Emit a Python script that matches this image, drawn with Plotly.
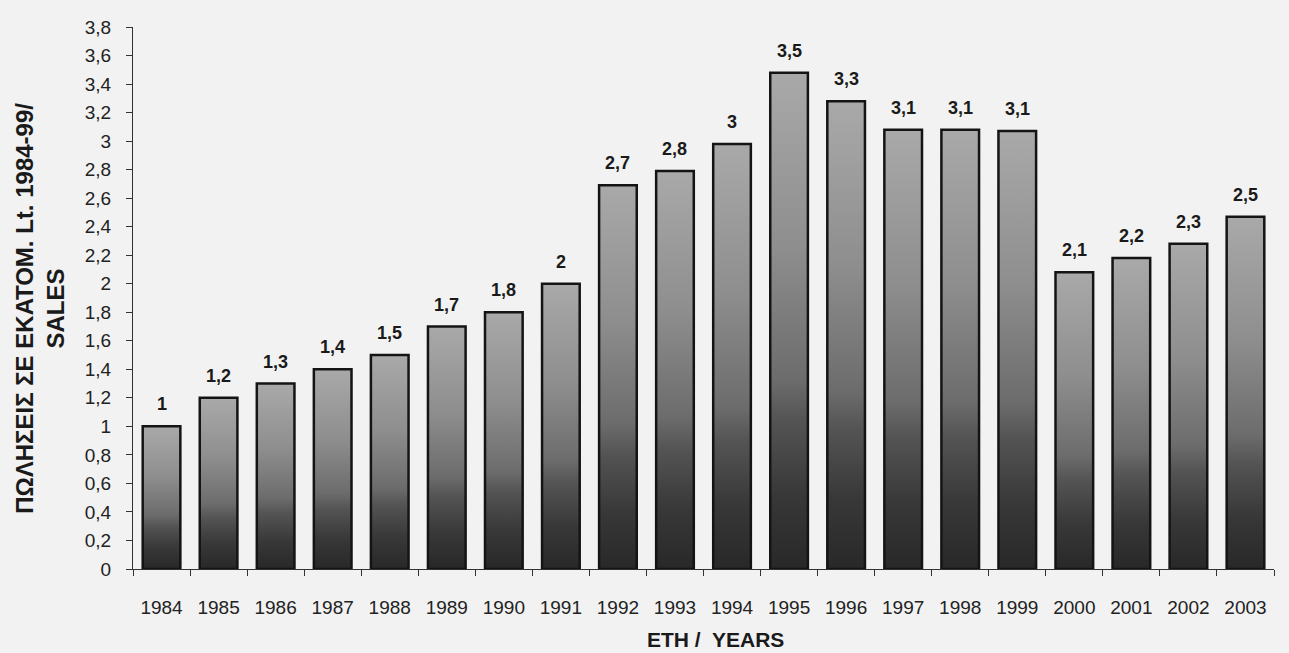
import plotly.graph_objects as go

years = [1984, 1985, 1986, 1987, 1988, 1989, 1990, 1991, 1992, 1993,
         1994, 1995, 1996, 1997, 1998, 1999, 2000, 2001, 2002, 2003]
sales = [1.0, 1.2, 1.3, 1.4, 1.5, 1.7, 1.8, 2.0, 2.69, 2.79,
         2.98, 3.48, 3.28, 3.08, 3.08, 3.07, 2.08, 2.18, 2.28, 2.47]
labels = ["1", "1,2", "1,3", "1,4", "1,5", "1,7", "1,8", "2", "2,7", "2,8",
          "3", "3,5", "3,3", "3,1", "3,1", "3,1", "2,1", "2,2", "2,3", "2,5"]
y_tickvals = [0, 0.2, 0.4, 0.6, 0.8, 1.0, 1.2, 1.4, 1.6, 1.8, 2.0,
              2.2, 2.4, 2.6, 2.8, 3.0, 3.2, 3.4, 3.6, 3.8]
y_ticktext = ["0", "0,2", "0,4", "0,6", "0,8", "1", "1,2", "1,4", "1,6", "1,8", "2",
              "2,2", "2,4", "2,6", "2,8", "3", "3,2", "3,4", "3,6", "3,8"]
x_ticktext = [str(y) for y in years]

FONT = "Liberation Sans, Arial, sans-serif"
BG = "#f2f2f2"
HALF = 0.33
GRAD = [[0.0, "#282828"], [0.15, "#383838"], [0.3, "#545454"], [0.38, "#6c6c6c"],
        [0.65, "#8e8e8e"], [1.0, "#a9a9a9"]]

fig = go.Figure()
for yr, v in zip(years, sales):
    fig.add_trace(go.Scatter(
        x=[yr - HALF, yr - HALF, yr + HALF, yr + HALF, yr - HALF],
        y=[0, v, v, 0, 0],
        mode="lines",
        fill="toself",
        fillgradient=dict(type="vertical", colorscale=GRAD),
        line=dict(color="#141414", width=2.5),
        hoverinfo="skip",
        showlegend=False,
    ))

annotations = []
for yr, v, lab in zip(years, sales, labels):
    annotations.append(dict(
        x=yr, y=v, text=lab, showarrow=False, yanchor="middle", yshift=22,
        font=dict(family=FONT, size=18, color="#1a1a1a", weight="bold"),
    ))

annotations.append(dict(
    x=0, xref="paper", y=0.48, yref="paper", xanchor="center", yanchor="middle",
    xshift=-93, textangle=-90,
    text="<b>ΠΩΛΗΣΕΙΣ ΣΕ ΕΚΑΤΟΜ. Lt. 1984-99/</b><br><b>SALES</b>",
    showarrow=False, align="center",
    font=dict(family=FONT, size=24, color="#1a1a1a"),
))
annotations.append(dict(
    x=0.5, xref="paper", y=0, yref="paper", yanchor="middle", xanchor="center",
    yshift=-70, xshift=12,
    text="<b>ETH /  YEARS</b>", showarrow=False,
    font=dict(family=FONT, size=21, color="#1a1a1a"),
))

fig.update_layout(
    width=1289, height=653,
    margin=dict(l=133, r=15, t=27, b=84),
    paper_bgcolor=BG, plot_bgcolor=BG,
    annotations=annotations,
    showlegend=False,
)
fig.update_xaxes(
    range=[1983.5, 2003.5],
    tickmode="array", tickvals=years, ticktext=x_ticktext,
    ticks="", showline=True, linecolor="#333333", linewidth=1,
    showgrid=False, zeroline=False,
    ticklabelstandoff=21,
    tickfont=dict(family=FONT, size=19, color="#222222"),
    minor=dict(ticks="outside", tickmode="linear", tick0=1983.5, dtick=1,
               ticklen=6, tickcolor="#333333", showgrid=False),
)
fig.update_yaxes(
    range=[0, 3.8],
    tickmode="array", tickvals=y_tickvals, ticktext=y_ticktext,
    ticks="outside", ticklen=6, tickcolor="#333333",
    showline=True, linecolor="#333333", linewidth=1,
    showgrid=False, zeroline=False,
    ticklabelstandoff=11,
    tickfont=dict(family=FONT, size=19, color="#222222"),
)

fig.write_html("out.html")
